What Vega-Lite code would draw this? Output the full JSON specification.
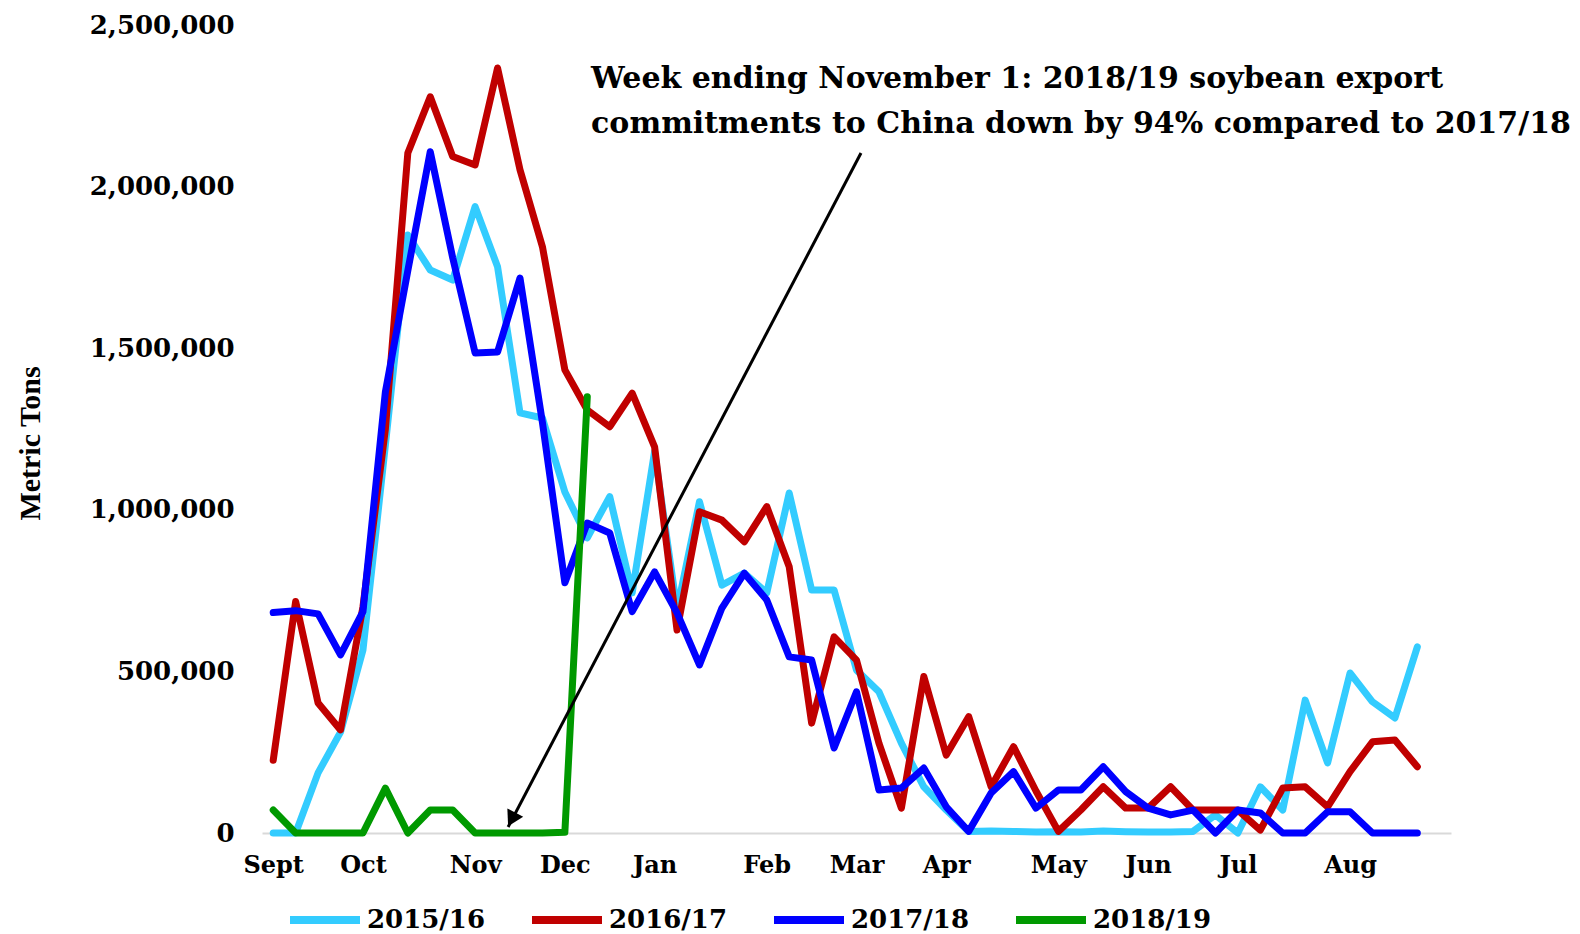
{
  "$schema": "https://vega.github.io/schema/vega-lite/v6.json",
  "width": 1189,
  "height": 808,
  "autosize": {"type": "none"},
  "padding": {"left": 262, "top": 25, "right": 129, "bottom": 101},
  "background": "white",
  "config": {"view": {"stroke": null}, "font": "DejaVu Serif"},
  "datasets": {
    "weekly": [
      {"season": "2015/16", "week": 0, "tons": 0},
      {"season": "2015/16", "week": 1, "tons": 0},
      {"season": "2015/16", "week": 2, "tons": 186000},
      {"season": "2015/16", "week": 3, "tons": 312000},
      {"season": "2015/16", "week": 4, "tons": 566000},
      {"season": "2015/16", "week": 5, "tons": 1200000},
      {"season": "2015/16", "week": 6, "tons": 1850000},
      {"season": "2015/16", "week": 7, "tons": 1742000},
      {"season": "2015/16", "week": 8, "tons": 1711000},
      {"season": "2015/16", "week": 9, "tons": 1938000},
      {"season": "2015/16", "week": 10, "tons": 1752000},
      {"season": "2015/16", "week": 11, "tons": 1300000},
      {"season": "2015/16", "week": 12, "tons": 1284000},
      {"season": "2015/16", "week": 13, "tons": 1055000},
      {"season": "2015/16", "week": 14, "tons": 913000},
      {"season": "2015/16", "week": 15, "tons": 1041000},
      {"season": "2015/16", "week": 16, "tons": 743000},
      {"season": "2015/16", "week": 17, "tons": 1180000},
      {"season": "2015/16", "week": 18, "tons": 690000},
      {"season": "2015/16", "week": 19, "tons": 1025000},
      {"season": "2015/16", "week": 20, "tons": 767000},
      {"season": "2015/16", "week": 21, "tons": 804000},
      {"season": "2015/16", "week": 22, "tons": 743000},
      {"season": "2015/16", "week": 23, "tons": 1052000},
      {"season": "2015/16", "week": 24, "tons": 752000},
      {"season": "2015/16", "week": 25, "tons": 752000},
      {"season": "2015/16", "week": 26, "tons": 504000},
      {"season": "2015/16", "week": 27, "tons": 437000},
      {"season": "2015/16", "week": 28, "tons": 278000},
      {"season": "2015/16", "week": 29, "tons": 143000},
      {"season": "2015/16", "week": 30, "tons": 71000},
      {"season": "2015/16", "week": 31, "tons": 5000},
      {"season": "2015/16", "week": 32, "tons": 6000},
      {"season": "2015/16", "week": 33, "tons": 5000},
      {"season": "2015/16", "week": 34, "tons": 3000},
      {"season": "2015/16", "week": 35, "tons": 4000},
      {"season": "2015/16", "week": 36, "tons": 3000},
      {"season": "2015/16", "week": 37, "tons": 6000},
      {"season": "2015/16", "week": 38, "tons": 4000},
      {"season": "2015/16", "week": 39, "tons": 3000},
      {"season": "2015/16", "week": 40, "tons": 3000},
      {"season": "2015/16", "week": 41, "tons": 5000},
      {"season": "2015/16", "week": 42, "tons": 56000},
      {"season": "2015/16", "week": 43, "tons": 0},
      {"season": "2015/16", "week": 44, "tons": 143000},
      {"season": "2015/16", "week": 45, "tons": 71000},
      {"season": "2015/16", "week": 46, "tons": 411000},
      {"season": "2015/16", "week": 47, "tons": 217000},
      {"season": "2015/16", "week": 48, "tons": 495000},
      {"season": "2015/16", "week": 49, "tons": 406000},
      {"season": "2015/16", "week": 50, "tons": 356000},
      {"season": "2015/16", "week": 51, "tons": 576000},
      {"season": "2016/17", "week": 0, "tons": 225000},
      {"season": "2016/17", "week": 1, "tons": 716000},
      {"season": "2016/17", "week": 2, "tons": 402000},
      {"season": "2016/17", "week": 3, "tons": 319000},
      {"season": "2016/17", "week": 4, "tons": 700000},
      {"season": "2016/17", "week": 5, "tons": 1250000},
      {"season": "2016/17", "week": 6, "tons": 2104000},
      {"season": "2016/17", "week": 7, "tons": 2278000},
      {"season": "2016/17", "week": 8, "tons": 2093000},
      {"season": "2016/17", "week": 9, "tons": 2067000},
      {"season": "2016/17", "week": 10, "tons": 2367000},
      {"season": "2016/17", "week": 11, "tons": 2052000},
      {"season": "2016/17", "week": 12, "tons": 1814000},
      {"season": "2016/17", "week": 13, "tons": 1433000},
      {"season": "2016/17", "week": 14, "tons": 1309000},
      {"season": "2016/17", "week": 15, "tons": 1257000},
      {"season": "2016/17", "week": 16, "tons": 1361000},
      {"season": "2016/17", "week": 17, "tons": 1195000},
      {"season": "2016/17", "week": 18, "tons": 628000},
      {"season": "2016/17", "week": 19, "tons": 994000},
      {"season": "2016/17", "week": 20, "tons": 968000},
      {"season": "2016/17", "week": 21, "tons": 901000},
      {"season": "2016/17", "week": 22, "tons": 1010000},
      {"season": "2016/17", "week": 23, "tons": 824000},
      {"season": "2016/17", "week": 24, "tons": 340000},
      {"season": "2016/17", "week": 25, "tons": 607000},
      {"season": "2016/17", "week": 26, "tons": 535000},
      {"season": "2016/17", "week": 27, "tons": 278000},
      {"season": "2016/17", "week": 28, "tons": 77000},
      {"season": "2016/17", "week": 29, "tons": 484000},
      {"season": "2016/17", "week": 30, "tons": 241000},
      {"season": "2016/17", "week": 31, "tons": 360000},
      {"season": "2016/17", "week": 32, "tons": 143000},
      {"season": "2016/17", "week": 33, "tons": 267000},
      {"season": "2016/17", "week": 34, "tons": 130000},
      {"season": "2016/17", "week": 35, "tons": 5000},
      {"season": "2016/17", "week": 36, "tons": 71000},
      {"season": "2016/17", "week": 37, "tons": 143000},
      {"season": "2016/17", "week": 38, "tons": 77000},
      {"season": "2016/17", "week": 39, "tons": 77000},
      {"season": "2016/17", "week": 40, "tons": 143000},
      {"season": "2016/17", "week": 41, "tons": 71000},
      {"season": "2016/17", "week": 42, "tons": 71000},
      {"season": "2016/17", "week": 43, "tons": 71000},
      {"season": "2016/17", "week": 44, "tons": 9000},
      {"season": "2016/17", "week": 45, "tons": 139000},
      {"season": "2016/17", "week": 46, "tons": 143000},
      {"season": "2016/17", "week": 47, "tons": 81000},
      {"season": "2016/17", "week": 48, "tons": 190000},
      {"season": "2016/17", "week": 49, "tons": 282000},
      {"season": "2016/17", "week": 50, "tons": 288000},
      {"season": "2016/17", "week": 51, "tons": 205000},
      {"season": "2017/18", "week": 0, "tons": 682000},
      {"season": "2017/18", "week": 1, "tons": 688000},
      {"season": "2017/18", "week": 2, "tons": 678000},
      {"season": "2017/18", "week": 3, "tons": 551000},
      {"season": "2017/18", "week": 4, "tons": 685000},
      {"season": "2017/18", "week": 5, "tons": 1365000},
      {"season": "2017/18", "week": 6, "tons": 1740000},
      {"season": "2017/18", "week": 7, "tons": 2108000},
      {"season": "2017/18", "week": 8, "tons": 1780000},
      {"season": "2017/18", "week": 9, "tons": 1485000},
      {"season": "2017/18", "week": 10, "tons": 1488000},
      {"season": "2017/18", "week": 11, "tons": 1717000},
      {"season": "2017/18", "week": 12, "tons": 1270000},
      {"season": "2017/18", "week": 13, "tons": 774000},
      {"season": "2017/18", "week": 14, "tons": 959000},
      {"season": "2017/18", "week": 15, "tons": 928000},
      {"season": "2017/18", "week": 16, "tons": 685000},
      {"season": "2017/18", "week": 17, "tons": 808000},
      {"season": "2017/18", "week": 18, "tons": 681000},
      {"season": "2017/18", "week": 19, "tons": 520000},
      {"season": "2017/18", "week": 20, "tons": 696000},
      {"season": "2017/18", "week": 21, "tons": 804000},
      {"season": "2017/18", "week": 22, "tons": 721000},
      {"season": "2017/18", "week": 23, "tons": 545000},
      {"season": "2017/18", "week": 24, "tons": 535000},
      {"season": "2017/18", "week": 25, "tons": 263000},
      {"season": "2017/18", "week": 26, "tons": 437000},
      {"season": "2017/18", "week": 27, "tons": 133000},
      {"season": "2017/18", "week": 28, "tons": 139000},
      {"season": "2017/18", "week": 29, "tons": 201000},
      {"season": "2017/18", "week": 30, "tons": 81000},
      {"season": "2017/18", "week": 31, "tons": 5000},
      {"season": "2017/18", "week": 32, "tons": 124000},
      {"season": "2017/18", "week": 33, "tons": 190000},
      {"season": "2017/18", "week": 34, "tons": 77000},
      {"season": "2017/18", "week": 35, "tons": 133000},
      {"season": "2017/18", "week": 36, "tons": 133000},
      {"season": "2017/18", "week": 37, "tons": 205000},
      {"season": "2017/18", "week": 38, "tons": 128000},
      {"season": "2017/18", "week": 39, "tons": 77000},
      {"season": "2017/18", "week": 40, "tons": 56000},
      {"season": "2017/18", "week": 41, "tons": 71000},
      {"season": "2017/18", "week": 42, "tons": 0},
      {"season": "2017/18", "week": 43, "tons": 71000},
      {"season": "2017/18", "week": 44, "tons": 62000},
      {"season": "2017/18", "week": 45, "tons": 0},
      {"season": "2017/18", "week": 46, "tons": 0},
      {"season": "2017/18", "week": 47, "tons": 66000},
      {"season": "2017/18", "week": 48, "tons": 66000},
      {"season": "2017/18", "week": 49, "tons": 0},
      {"season": "2017/18", "week": 50, "tons": 0},
      {"season": "2017/18", "week": 51, "tons": 0},
      {"season": "2018/19", "week": 0, "tons": 71000},
      {"season": "2018/19", "week": 1, "tons": 0},
      {"season": "2018/19", "week": 2, "tons": 0},
      {"season": "2018/19", "week": 3, "tons": 0},
      {"season": "2018/19", "week": 4, "tons": 0},
      {"season": "2018/19", "week": 5, "tons": 139000},
      {"season": "2018/19", "week": 6, "tons": 0},
      {"season": "2018/19", "week": 7, "tons": 71000},
      {"season": "2018/19", "week": 8, "tons": 71000},
      {"season": "2018/19", "week": 9, "tons": 0},
      {"season": "2018/19", "week": 10, "tons": 0},
      {"season": "2018/19", "week": 11, "tons": 0},
      {"season": "2018/19", "week": 12, "tons": 0},
      {"season": "2018/19", "week": 13, "tons": 2000},
      {"season": "2018/19", "week": 14, "tons": 1350000}
    ],
    "arrow": [
      {"from_week": 26.2, "from_tons": 2104000, "to_week": 10.47, "to_tons": 18600, "head_week": 10.63, "head_tons": 42000}
    ],
    "note": [
      {"week": 14.17, "tons": 2334000, "label": "Week ending November 1: 2018/19 soybean export\ncommitments to China down by 94% compared to 2017/18"}
    ]
  },
  "layer": [
    {
      "data": {"name": "weekly"},
      "mark": {"type": "line", "strokeWidth": 7, "strokeJoin": "round", "strokeCap": "round"},
      "encoding": {
        "x": {
          "field": "week", "type": "quantitative", "title": null,
          "scale": {"domain": [-0.5, 52.5], "nice": false, "zero": false},
          "axis": {
            "values": [0, 4, 9, 13, 17, 22, 26, 30, 35, 39, 43, 48],
            "labelExpr": "datum.value==0?'Sept':datum.value==4?'Oct':datum.value==9?'Nov':datum.value==13?'Dec':datum.value==17?'Jan':datum.value==22?'Feb':datum.value==26?'Mar':datum.value==30?'Apr':datum.value==35?'May':datum.value==39?'Jun':datum.value==43?'Jul':'Aug'",
            "grid": false, "ticks": false, "domainColor": "#d9d9d9", "domainWidth": 2,
            "labelFont": "DejaVu Serif", "labelFontWeight": "bold", "labelFontSize": 24, "labelColor": "black",
            "labelPadding": 20, "labelFlush": false, "labelOverlap": false
          }
        },
        "y": {
          "field": "tons", "type": "quantitative", "title": "Metric Tons",
          "scale": {"domain": [0, 2500000], "nice": false},
          "axis": {
            "values": [0, 500000, 1000000, 1500000, 2000000, 2500000],
            "format": ",d", "grid": false, "ticks": false, "domain": false,
            "labelFont": "DejaVu Serif", "labelFontWeight": "bold", "labelFontSize": 26, "labelColor": "black",
            "labelPadding": 28,
            "titleFont": "Liberation Sans Narrow", "titleFontWeight": "bold", "titleFontSize": 30, "titleColor": "black",
            "titleAngle": -90, "titleX": -232, "titleY": 418, "titleAlign": "center", "titleBaseline": "middle"
          }
        },
        "color": {
          "field": "season", "type": "nominal",
          "scale": {"domain": ["2015/16", "2016/17", "2017/18", "2018/19"], "range": ["#33CCFF", "#C00000", "#0000FF", "#009900"]},
          "legend": {
            "orient": "none", "legendX": 24, "legendY": 856, "direction": "horizontal", "title": null,
            "symbolType": "stroke", "symbolSize": 4900, "symbolStrokeWidth": 8,
            "labelFont": "DejaVu Serif", "labelFontWeight": "bold", "labelFontSize": 26, "labelColor": "black",
            "columnPadding": 30, "labelOffset": 3, "padding": 0
          }
        }
      }
    },
    {
      "data": {"name": "arrow"},
      "mark": {"type": "rule", "color": "black", "strokeWidth": 3},
      "encoding": {
        "x": {"field": "from_week", "type": "quantitative", "title": null},
        "y": {"field": "from_tons", "type": "quantitative", "title": "Metric Tons"},
        "x2": {"field": "to_week"},
        "y2": {"field": "to_tons"}
      }
    },
    {
      "data": {"name": "arrow"},
      "mark": {"type": "point", "shape": "triangle-up", "filled": true, "color": "black", "opacity": 1, "size": 320, "angle": 207.6},
      "encoding": {
        "x": {"field": "head_week", "type": "quantitative", "title": null},
        "y": {"field": "head_tons", "type": "quantitative", "title": "Metric Tons"}
      }
    },
    {
      "data": {"name": "note"},
      "mark": {"type": "text", "align": "left", "baseline": "middle", "font": "DejaVu Serif", "fontWeight": "bold", "fontSize": 30, "lineBreak": "\n", "lineHeight": 45, "color": "black"},
      "encoding": {
        "x": {"field": "week", "type": "quantitative", "title": null},
        "y": {"field": "tons", "type": "quantitative", "title": "Metric Tons"},
        "text": {"field": "label"}
      }
    }
  ]
}
